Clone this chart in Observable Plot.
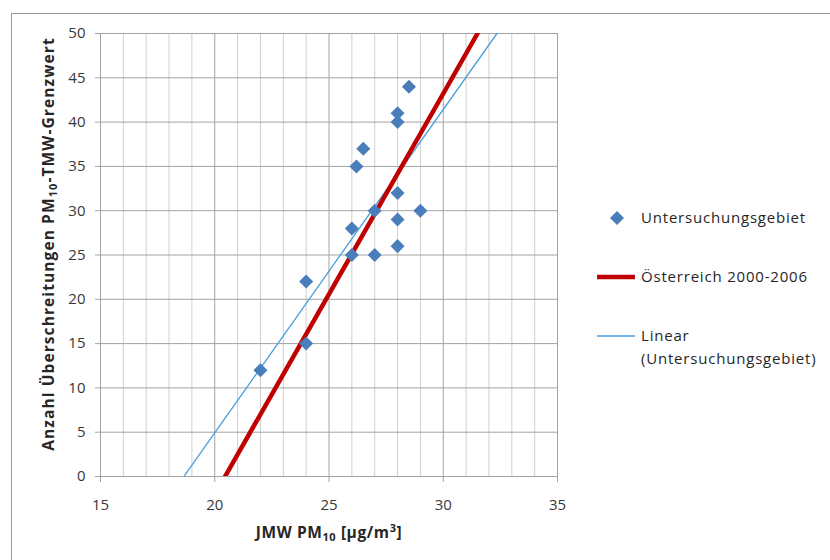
<!DOCTYPE html>
<html>
<head>
<meta charset="utf-8">
<script src="https://cdn.jsdelivr.net/npm/d3@7"></script>
<script src="https://cdn.jsdelivr.net/npm/@observablehq/plot@0.6"></script>
<style>
  body { margin: 0; background: #fff; }
  #wrap { position: relative; width: 830px; height: 560px; overflow: hidden; background: #fff; }
  #border { position: absolute; left: 11px; top: 13px; width: 900px; height: 700px; border: 1px solid #9a9a9a; box-sizing: border-box; }
  #chart { position: absolute; left: 0; top: 0; }
</style>
</head>
<body>
<div id="wrap"><div id="border"></div><div id="chart"></div></div>
<script>
// Measured points (Untersuchungsgebiet)
const jmwPM10 = [22, 24, 24, 26, 26, 26.2, 26.5, 27, 27, 28, 28, 28, 28, 28, 28.5, 29];
const exceedances = [12, 15, 22, 25, 28, 35, 37, 25, 30, 26, 29, 32, 40, 41, 44, 30];

// Österreich 2000-2006 relation (endpoints within the plotted range)
const austriaX = [20.45, 31.5];
const austriaY = [0, 50];

// Linear trend line (Untersuchungsgebiet)
const linearX = [18.65, 32.35];
const linearY = [0, 50];

// Axes
const xTicks = [15, 20, 25, 30, 35];
const xMinor = [16, 17, 18, 19, 21, 22, 23, 24, 26, 27, 28, 29, 31, 32, 33, 34];
const yTicks = [0, 5, 10, 15, 20, 25, 30, 35, 40, 45, 50];

// Legend labels
const legendLabels = ["Untersuchungsgebiet", "Österreich 2000-2006", "Linear", "(Untersuchungsgebiet)"];

const points = jmwPM10.map((x, i) => ({x, y: exceedances[i]}));
const austria = austriaX.map((x, i) => ({x, y: austriaY[i]}));
const linear = linearX.map((x, i) => ({x, y: linearY[i]}));

const font = "'Open Sans', sans-serif";

const chart = Plot.plot({
  width: 830,
  height: 560,
  marginLeft: 100,
  marginRight: 273,
  marginTop: 33,
  marginBottom: 84,
  style: {fontFamily: font, fontSize: "15px", color: "#383838", background: "transparent", overflow: "visible"},
  x: {domain: [15, 35]},
  y: {domain: [0, 50]},
  marks: [
    Plot.ruleX(xMinor, {stroke: "#cfcfcf", strokeWidth: 1}),
    Plot.ruleX(xTicks, {stroke: "#a3a3a3", strokeWidth: 1}),
    Plot.ruleY(yTicks, {stroke: "#a3a3a3", strokeWidth: 1}),
    Plot.axisX({ticks: xTicks, tickSize: 6, tickPadding: 17, stroke: "#a3a3a3", fill: "#383838", label: null, tickFormat: d => String(d)}),
    Plot.axisY({ticks: yTicks, tickSize: 5, tickPadding: 10, stroke: "#a3a3a3", fill: "#383838", label: null, tickFormat: d => String(d)}),
    Plot.line(linear, {x: "x", y: "y", stroke: "#4a9fdc", strokeWidth: 1.3, clip: true}),
    Plot.line(austria, {x: "x", y: "y", stroke: "#c00000", strokeWidth: 4.5, clip: true}),
    Plot.dot(points, {x: "x", y: "y", symbol: "square", rotate: 45, r: 5.6, fill: "#4a7ebb", stroke: "none"})
  ]
});

document.getElementById("chart").appendChild(chart);

const svg = d3.select(chart);

// X-axis title
const xt = svg.append("text")
  .attr("x", 329).attr("y", 538)
  .attr("text-anchor", "middle")
  .attr("font-family", font).attr("font-weight", "bold").attr("font-size", 15.5)
  .attr("letter-spacing", 0.6)
  .attr("fill", "#262626");
xt.append("tspan").text("JMW PM");
xt.append("tspan").attr("font-size", 11).attr("dy", 3).text("10");
xt.append("tspan").attr("dy", -3).text(" [µg/m");
xt.append("tspan").attr("font-size", 11).attr("dy", -6).text("3");
xt.append("tspan").attr("dy", 6).text("]");

// Y-axis title
const yt = svg.append("text")
  .attr("transform", "translate(54,244) rotate(-90)")
  .attr("text-anchor", "middle")
  .attr("font-family", font).attr("font-weight", "bold").attr("font-size", 15.5)
  .attr("letter-spacing", 1.1)
  .attr("fill", "#262626");
yt.append("tspan").text("Anzahl Überschreitungen PM");
yt.append("tspan").attr("font-size", 11).attr("dy", 3).text("10");
yt.append("tspan").attr("dy", -3).text("-TMW-Grenzwert");

// Legend
const lg = svg.append("g").attr("font-family", font).attr("font-size", 15).attr("fill", "#262626").attr("text-anchor", "start");
lg.append("path")
  .attr("d", d3.symbol(d3.symbolSquare, 5.6 * 5.6 * Math.PI)())
  .attr("transform", "translate(617,218) rotate(45)")
  .attr("fill", "#4a7ebb");
lg.append("text").attr("x", 641).attr("y", 218).attr("dy", "0.35em").attr("letter-spacing", 0.8).text(legendLabels[0]);
lg.append("line").attr("x1", 597).attr("x2", 635).attr("y1", 277).attr("y2", 277).attr("stroke", "#c00000").attr("stroke-width", 4.5);
lg.append("text").attr("x", 641).attr("y", 277).attr("dy", "0.35em").attr("letter-spacing", 0.8).text(legendLabels[1]);
lg.append("line").attr("x1", 597).attr("x2", 635).attr("y1", 336).attr("y2", 336).attr("stroke", "#4a9fdc").attr("stroke-width", 1.3);
lg.append("text").attr("x", 641).attr("y", 336).attr("dy", "0.35em").attr("letter-spacing", 0.8).text(legendLabels[2]);
lg.append("text").attr("x", 641).attr("y", 359).attr("dy", "0.35em").attr("letter-spacing", 0.8).text(legendLabels[3]);
</script>
</body>
</html>
